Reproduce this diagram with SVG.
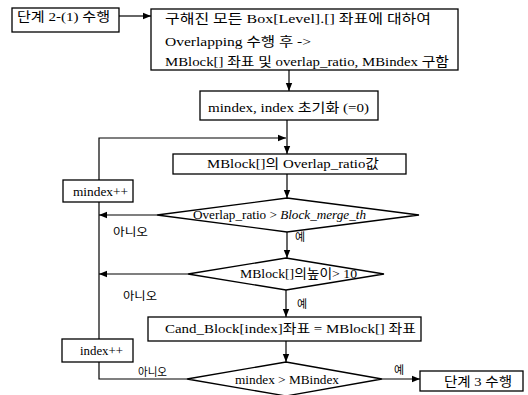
<svg xmlns="http://www.w3.org/2000/svg" width="528" height="395" viewBox="0 0 528 395">
<defs>
<marker id="ah" viewBox="0 0 10 10" refX="10" refY="5" markerWidth="8" markerHeight="8" markerUnits="userSpaceOnUse" orient="auto"><path d="M0,1 L10,5 L0,9 Z" fill="#000"/></marker>
</defs>
<style>
rect,polygon{fill:#fff;stroke:#000;stroke-width:1.3}
line,polyline{stroke:#000;stroke-width:1.2;fill:none}
.a{marker-end:url(#ah)}
text{font-family:"Liberation Serif","Noto Sans CJK KR",serif;font-size:13px;fill:#000}
.s{font-size:11px}
</style>
<rect width="528" height="395" style="fill:#fff;stroke:none"/>
<g id="connectors">
<line class="a" x1="119" y1="16" x2="151" y2="16"/>
<line class="a" x1="289" y1="70" x2="289" y2="91"/>
<line x1="287" y1="120" x2="287" y2="138"/>
<line class="a" x1="287" y1="138" x2="287" y2="154"/>
<polyline points="99,180 99,138 286,138" class="a"/>
<line class="a" x1="287" y1="174" x2="287" y2="198"/>
<line class="a" x1="157" y1="215" x2="99" y2="215"/>
<line class="a" x1="287" y1="232" x2="287" y2="258"/>
<line class="a" x1="188" y1="274" x2="99" y2="274"/>
<line class="a" x1="286" y1="290" x2="286" y2="317"/>
<line class="a" x1="286" y1="341" x2="286" y2="362"/>
<line x1="99" y1="202" x2="99" y2="339"/>
<polyline points="99,362 99,379 187,379"/>
<line class="a" x1="382" y1="379" x2="420" y2="379"/>
</g>
<g id="step21"><rect x="12" y="8" width="107" height="24"/><text x="17" y="21" textLength="93" lengthAdjust="spacingAndGlyphs">단계 2-(1) 수행</text></g>
<g id="overlap"><rect x="151" y="9" width="307" height="61"/>
<text x="165" y="23" textLength="266" lengthAdjust="spacingAndGlyphs">구해진 모든 Box[Level].[] 좌표에 대하여</text>
<text x="165" y="46" textLength="146" lengthAdjust="spacingAndGlyphs">Overlapping 수행 후 -&gt;</text>
<text x="165" y="66" textLength="284" lengthAdjust="spacingAndGlyphs">MBlock[] 좌표 및 overlap_ratio, MBindex 구함</text></g>
<g id="init"><rect x="200" y="91" width="178" height="29"/><text x="208" y="112" textLength="161" lengthAdjust="spacingAndGlyphs">mindex, index 초기화 (=0)</text></g>
<g id="mblock"><rect x="173" y="154" width="233" height="20"/><text x="207" y="168" textLength="172" lengthAdjust="spacingAndGlyphs">MBlock[]의 Overlap_ratio값</text></g>
<g id="mindexpp"><rect x="63" y="180" width="70" height="22"/><text x="73" y="196" textLength="55" lengthAdjust="spacingAndGlyphs">mindex++</text></g>
<g id="dec1"><polygon points="287,198 419,215 287,232 157,215"/><text x="193" y="219" textLength="173" lengthAdjust="spacingAndGlyphs">Overlap_ratio &gt; <tspan font-style="italic">Block_merge_th</tspan></text></g>
<g id="dec2"><polygon points="286,258 384,274 286,290 188,274"/><text x="240" y="278" textLength="117" lengthAdjust="spacingAndGlyphs">MBlock[]의높이&gt; 10</text></g>
<g id="cand"><rect x="148" y="317" width="273" height="24"/><text x="165" y="333" textLength="251" lengthAdjust="spacingAndGlyphs">Cand_Block[index]좌표 = MBlock[] 좌표</text></g>
<g id="indexpp"><rect x="62" y="339" width="71" height="23"/><text x="80" y="355" textLength="43" lengthAdjust="spacingAndGlyphs">index++</text></g>
<g id="dec3"><polygon points="286,362 382,379 286,396 187,379"/><text x="235" y="384" textLength="104" lengthAdjust="spacingAndGlyphs">mindex &gt; MBindex</text></g>
<g id="step3"><rect x="420" y="371" width="103" height="20"/><text x="444" y="386" textLength="68" lengthAdjust="spacingAndGlyphs">단계 3 수행</text></g>
<g id="labels">
<text class="s" x="113" y="236" textLength="35" lengthAdjust="spacingAndGlyphs">아니오</text>
<text class="s" x="123" y="300" textLength="34" lengthAdjust="spacingAndGlyphs">아니오</text>
<text class="s" x="138" y="376" textLength="29" lengthAdjust="spacingAndGlyphs">아니오</text>
<text class="s" x="295" y="241">예</text>
<text class="s" x="297" y="308">예</text>
<text class="s" x="394" y="374">예</text>
</g>
</svg>
